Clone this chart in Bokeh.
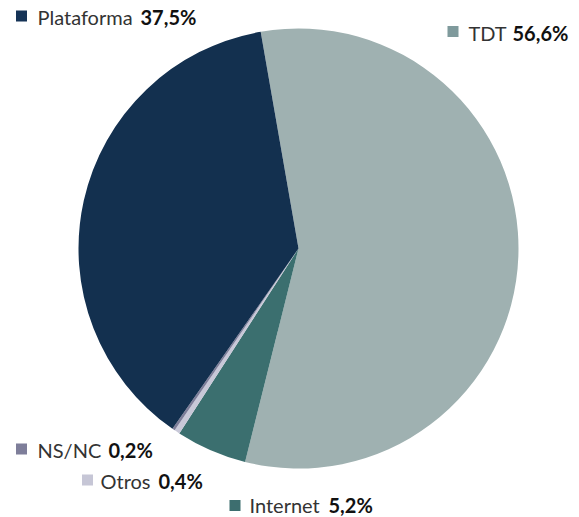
import math
from bokeh.plotting import figure
from bokeh.models import Range1d, ColumnDataSource
from bokeh.core.properties import value
from bokeh.embed import file_html
from bokeh.resources import INLINE

# data (clockwise order starting at top boundary)
categories = ["TDT", "Internet", "Otros", "NS/NC", "Plataforma"]
shares = [56.6, 5.2, 0.4, 0.2, 37.5]
share_labels = ["56,6%", "5,2%", "0,4%", "0,2%", "37,5%"]
slice_colors = ["#9fb1b1", "#3b6f6f", "#c8c8d8", "#7d7d99", "#13304f"]
marker_colors = ["#7f9a9c", "#3d6e6f", "#c6c6d6", "#7e7e9a", "#153356"]

# layout (screen pixel coordinates)
W, H = 579, 517
def sx(x):
    return x
def sy(y):
    return H - y

cx, cy, r = 298, 248, 220
start_offset = -9.9  # degrees clockwise from top

label_mx = [452.5, 234.5, 87, 21, 21]
label_my = [31, 505, 479.5, 448.5, 15.5]
label_tx = [468, 249, 100, 37, 37]
label_vx = [512, 328, 158, 108, 140]
label_ty = [32, 504, 480.5, 449.5, 16.5]

p = figure(width=W, height=H, output_backend="svg", toolbar_location=None,
           x_range=Range1d(0, W), y_range=Range1d(0, H), min_border=0)
p.axis.visible = False
p.grid.visible = False
p.outline_line_color = None
p.background_fill_color = "white"

total = sum(shares)
starts, ends = [], []
cum = start_offset
for s in shares:
    a = s / total * 360.0
    starts.append(math.radians(90 - cum))
    ends.append(math.radians(90 - (cum + a)))
    cum += a

src = ColumnDataSource(dict(start=starts, end=ends, color=slice_colors))
p.wedge(x=sx(cx), y=sy(cy), radius=r, start_angle="start", end_angle="end",
        direction="clock", fill_color="color", line_color=None, source=src)

msrc = ColumnDataSource(dict(x=[sx(v) for v in label_mx], y=[sy(v) for v in label_my],
                             color=marker_colors))
p.rect(x="x", y="y", width=11, height=11, fill_color="color", line_color=None, source=msrc)

ty = [sy(v) for v in label_ty]
tsrc = ColumnDataSource(dict(x=[sx(v) for v in label_tx], y=ty, t=categories))
p.text(x="x", y="y", text="t", source=tsrc, text_font=value("Lato"),
       text_font_size="20px", text_color="#333333", text_baseline="middle",
       text_align="left")
vsrc = ColumnDataSource(dict(x=[sx(v) for v in label_vx], y=ty, t=share_labels))
p.text(x="x", y="y", text="t", source=vsrc, text_font=value("Lato"),
       text_font_size="20px", text_font_style="bold", text_color="#111111",
       text_baseline="middle", text_align="left")

open("out.html", "w").write(file_html(p, INLINE))
